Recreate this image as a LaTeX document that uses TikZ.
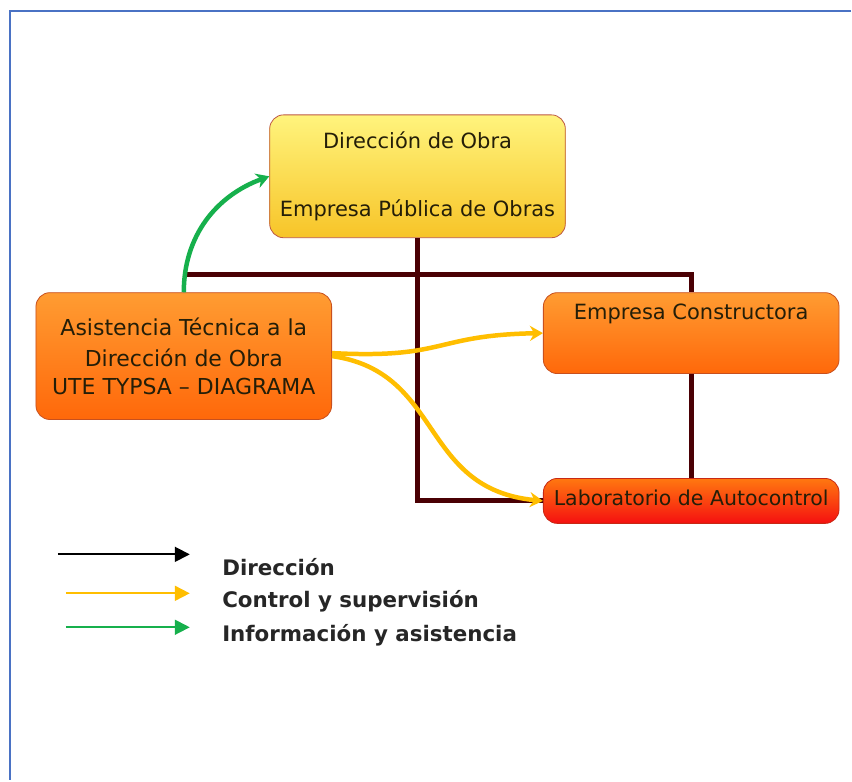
\documentclass[tikz,border=0pt]{standalone}
\usepackage{fontspec}
\setmainfont{DejaVu Sans}
\usetikzlibrary{arrows.meta,positioning}

\definecolor{marco}{RGB}{74,114,196}
\definecolor{granate}{RGB}{74,0,4}
\definecolor{oro}{RGB}{255,190,0}
\definecolor{verde}{RGB}{22,176,76}
\definecolor{textobox}{RGB}{36,30,8}

\begin{document}
\begin{tikzpicture}[x=1pt,y=1pt,
  caja/.style={rectangle, rounded corners=14pt, line width=0.8pt, minimum width=296pt,
    align=center, text=textobox, font=\fontsize{21}{24}\selectfont},
  amarilla/.style={caja, draw={rgb,255:red,190;green,90;blue,70}, top color={rgb,255:red,255;green,244;blue,125}, bottom color={rgb,255:red,247;green,196;blue,40}},
  naranja/.style={caja, draw={rgb,255:red,200;green,80;blue,30}, top color={rgb,255:red,255;green,156;blue,50}, bottom color={rgb,255:red,255;green,104;blue,10}},
  roja/.style={caja, draw={rgb,255:red,200;green,40;blue,20}, top color={rgb,255:red,255;green,120;blue,16}, bottom color={rgb,255:red,245;green,16;blue,16}},
  direc/.style={granate, line width=5pt},
  control/.style={oro, line width=4.5pt, -{Stealth[length=13pt,width=15pt]}},
  inform/.style={verde, line width=4.5pt, -{Stealth[length=13pt,width=15pt]}},
  leyenda/.style={anchor=west, font=\bfseries\fontsize{21.4}{24}\selectfont, text=black!85}]

\fill[white] (0,0) rectangle (852,-781);
\draw[marco, line width=2pt] (852,-11) -- (10,-11) -- (10,-781);

% cajas
\node[amarilla, minimum height=123pt] (dir) at (418,-176.5)
  {Dirección de Obra\\[45pt]Empresa Pública de Obras};
\node[naranja, minimum height=127pt, font=\fontsize{22}{28}\selectfont] (asis) at (184,-356.5)
  {Asistencia Técnica a la\\[3pt]Dirección de Obra\\UTE TYPSA \textendash{} DIAGRAMA};
\node[naranja, minimum height=81pt,
  label={[anchor=north, yshift=-8pt, text=textobox, font=\fontsize{21}{24}\selectfont]north:Empresa Constructora}]
  (cons) at (692,-333.5) {};
\node[roja, minimum height=45pt, text depth=6pt, font=\fontsize{20.5}{24}\selectfont] (lab) at (692,-501.5) {Laboratorio de Autocontrol};

% direccion
\coordinate (barra) at (0,-275);
\draw[direc] (dir.south) |- (lab.west);
\draw[direc] (asis.north |- barra) -- (cons.north |- barra) -- (cons.north);
\draw[direc] (cons.south) -- (lab.north);

% control y supervision
\draw[control] ([yshift=3pt]asis.east) .. controls +(115,-6) and +(-110,-2) .. (cons.west);
\draw[control] (asis.east) .. controls +(112,-16) and +(-124,12) .. (lab.west);

% informacion
\draw[inform] (asis.north) to[out=90,in=200] (dir.west);

% leyenda
\node[leyenda] (l1) at (219,-568) {Dirección};
\node[leyenda] (l2) at (219,-602) {Control y supervisión};
\node[leyenda] (l3) at (219,-636) {Información y asistencia};
\coordinate (a1) at (58,-555);  \coordinate (b1) at (190,-555);
\coordinate (a2) at (66,-594);  \coordinate (b2) at (190,-594);
\coordinate (a3) at (66,-628);  \coordinate (b3) at (190,-628);
\draw[black, line width=1.8pt, -{Triangle[length=15pt,width=15pt]}] (a1) -- (b1);
\draw[oro, line width=1.8pt, -{Triangle[length=15pt,width=15pt]}] (a2) -- (b2);
\draw[verde, line width=1.8pt, -{Triangle[length=15pt,width=15pt]}] (a3) -- (b3);
\end{tikzpicture}
\end{document}
